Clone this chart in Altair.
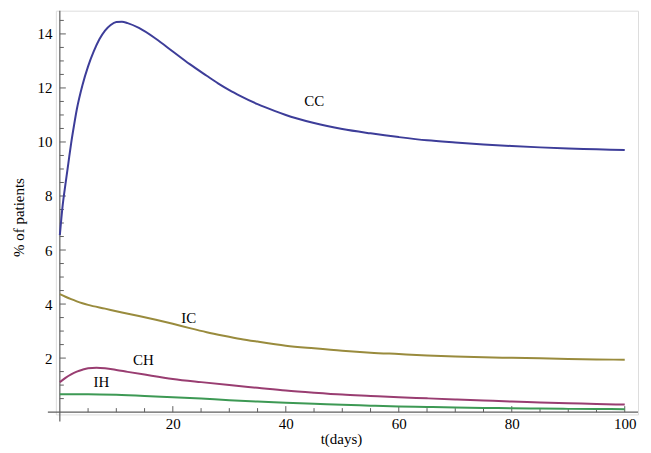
import altair as alt
import pandas as pd

# ---- data ----
cc_t = [0, 0.5, 1, 1.5, 2, 2.5, 3, 4, 5, 6, 7, 8, 9, 10, 11, 12, 14, 17, 20, 23, 26,
        28, 30, 32, 35, 38, 40, 42, 45, 50, 55, 60, 65, 70, 75, 80, 85, 90, 95, 100]
cc_v = [6.55, 7.65, 8.45, 9.2, 9.95, 10.6, 11.2, 12.1, 12.8, 13.35, 13.8, 14.12, 14.33,
        14.44, 14.45, 14.4, 14.22, 13.82, 13.35, 12.88, 12.45, 12.17, 11.92, 11.7,
        11.4, 11.15, 11.0, 10.87, 10.7, 10.48, 10.32, 10.18, 10.06, 9.98, 9.91, 9.85,
        9.8, 9.76, 9.73, 9.7]

ic_t = [0, 1, 2, 3, 4, 5, 8, 11, 14, 17, 20, 23, 26, 29, 32, 35, 40, 45, 50, 55, 60,
        65, 70, 75, 80, 85, 90, 95, 100]
ic_v = [4.37, 4.27, 4.18, 4.1, 4.03, 3.97, 3.83, 3.69, 3.56, 3.42, 3.27, 3.11, 2.96,
        2.83, 2.71, 2.61, 2.46, 2.36, 2.27, 2.2, 2.15, 2.1, 2.06, 2.03, 2.01, 1.99,
        1.97, 1.95, 1.94]

ch_t = [0, 1, 2, 3, 4, 5, 6.5, 8, 10, 12, 15, 20, 25, 30, 35, 40, 45, 50, 55, 60, 65,
        70, 75, 80, 85, 90, 95, 100]
ch_v = [1.11, 1.27, 1.4, 1.5, 1.57, 1.62, 1.64, 1.62, 1.56, 1.49, 1.39, 1.23, 1.11,
        1.0, 0.9, 0.8, 0.72, 0.65, 0.6, 0.55, 0.51, 0.47, 0.43, 0.39, 0.36, 0.33,
        0.3, 0.28]

ih_t = [0, 5, 10, 15, 20, 25, 30, 35, 40, 45, 50, 55, 60, 65, 70, 75, 80, 85, 90,
        95, 100]
ih_v = [0.66, 0.66, 0.64, 0.6, 0.55, 0.5, 0.44, 0.39, 0.35, 0.31, 0.27, 0.24, 0.21,
        0.19, 0.17, 0.155, 0.145, 0.13, 0.12, 0.115, 0.11]

series_names = ["CC", "IC", "CH", "IH"]
series_colors = ["#3d3d99", "#998b3d", "#993d71", "#3d9954"]

label_t = [45.05, 22.8, 14.8, 7.35]
label_v = [11.5, 3.49, 1.93, 1.12]

x_major = [20, 40, 60, 80, 100]
x_minor = [5, 10, 15, 25, 30, 35, 45, 50, 55, 65, 70, 75, 85, 90, 95]
y_major = [2, 4, 6, 8, 10, 12, 14]
y_minor = [0.5, 1, 1.5, 2.5, 3, 3.5, 4.5, 5, 5.5, 6.5, 7, 7.5, 8.5, 9, 9.5,
           10.5, 11, 11.5, 12.5, 13, 13.5, 14.5]

# ---- geometry / style ----
X_DOM = [-0.706, 102.35]
Y_DOM = [-0.085, 14.86]
X_AXIS_EXT = [-2.12, 102.35]
Y_AXIS_EXT = [-0.343, 14.86]
PX_X = 584 / (X_DOM[1] - X_DOM[0])
PX_Y = 405 / (Y_DOM[1] - Y_DOM[0])
FONT = "Liberation Serif"
AXIS_COLOR = "#5f5f5f"

rows = []
for name, ts, vs in zip(series_names, [cc_t, ic_t, ch_t, ih_t], [cc_v, ic_v, ch_v, ih_v]):
    for t, v in zip(ts, vs):
        rows.append({"t": t, "v": v, "series": name})
curves = pd.DataFrame(rows)

labels = pd.DataFrame({"t": label_t, "v": label_v, "series": series_names})

tick_rows = []
for t in x_major:
    tick_rows.append({"t": t, "t2": t, "v": 0, "v2": 6 / PX_Y})
for t in x_minor:
    tick_rows.append({"t": t, "t2": t, "v": 0, "v2": 4 / PX_Y})
for v in y_major:
    tick_rows.append({"t": 0, "t2": 6 / PX_X, "v": v, "v2": v})
for v in y_minor:
    tick_rows.append({"t": 0, "t2": 4 / PX_X, "v": v, "v2": v})
ticks = pd.DataFrame(tick_rows)

axes_lines = pd.DataFrame([
    {"t": X_AXIS_EXT[0], "t2": X_AXIS_EXT[1], "v": 0, "v2": 0},
    {"t": 0, "t2": 0, "v": Y_AXIS_EXT[0], "v2": Y_AXIS_EXT[1]},
])

xenc = alt.X(
    "t:Q",
    scale=alt.Scale(domain=X_DOM, nice=False, zero=False),
    axis=alt.Axis(
        values=x_major, domain=False, ticks=False, grid=False,
        labelFont=FONT, labelFontSize=15, labelColor="black", labelPadding=2,
        labelFlush=False, title="t(days)", titleFont=FONT, titleFontSize=15,
        titleFontWeight="normal", titleColor="black", titlePadding=0, titleX=286,
    ),
)
yenc = alt.Y(
    "v:Q",
    scale=alt.Scale(domain=Y_DOM, nice=False, zero=False),
    axis=alt.Axis(
        values=y_major, domain=False, ticks=False, grid=False,
        labelFont=FONT, labelFontSize=15, labelColor="black", labelPadding=4,
        labelFlush=False, title="% of patients", titleFont=FONT, titleFontSize=15,
        titleFontWeight="normal", titleColor="black", titlePadding=10, titleY=207,
    ),
)
color = alt.Color("series:N", scale=alt.Scale(domain=series_names, range=series_colors),
                  legend=None)

lines = alt.Chart(curves).mark_line(strokeWidth=2, interpolate="monotone").encode(
    x=xenc, y=yenc, color=color, detail="series:N"
)
axis_rules = alt.Chart(axes_lines).mark_rule(color=AXIS_COLOR, strokeWidth=1.2).encode(
    x=xenc, x2="t2:Q", y=yenc, y2="v2:Q"
)
tick_rules = alt.Chart(ticks).mark_rule(color=AXIS_COLOR, strokeWidth=1).encode(
    x=xenc, x2="t2:Q", y=yenc, y2="v2:Q"
)
text = alt.Chart(labels).mark_text(font=FONT, fontSize=15, color="black",
                                   align="center", baseline="middle").encode(
    x=xenc, y=yenc, text="series:N"
)

chart = alt.layer(axis_rules, tick_rules, lines, text).properties(
    width=584, height=405,
    autosize=alt.AutoSizeParams(type="none"),
    padding={"left": 48, "top": 2, "right": 5, "bottom": 32},
).configure_view(stroke=None).configure(background="white")

chart.save("out.html", embed_options={"renderer": "svg", "actions": False})
